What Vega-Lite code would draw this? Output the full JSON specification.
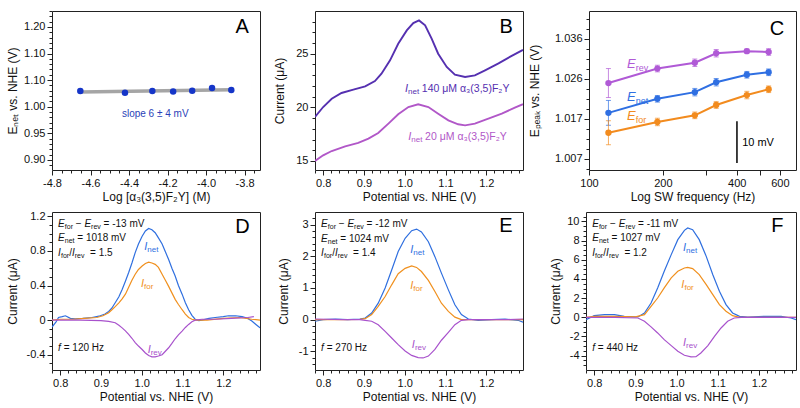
{
"$schema": "https://vega.github.io/schema/vega-lite/v6.json",
"padding": {"left": 5, "top": 4, "right": 2, "bottom": 2},
"background": "white",
"config": {
  "font": "Liberation Sans",
  "view": {"stroke": "#222", "strokeWidth": 1},
  "axis": {"grid": false, "domain": false, "ticks": true, "tickColor": "#222", "tickWidth": 1, "labelFontSize": 11, "labelColor": "#111", "labelPadding": 2, "titleFontSize": 12, "titleFontWeight": "normal", "titleColor": "#111", "titlePadding": 3, "labelOverlap": false, "labelFlush": false, "labelBound": false}
},
"datasets": {
  "A": [{"logc":-4.653,"E":1.0294},{"logc":-4.421,"E":1.0262},{"logc":-4.279,"E":1.0294},{"logc":-4.171,"E":1.0287},{"logc":-4.072,"E":1.0300},{"logc":-3.969,"E":1.0350},{"logc":-3.869,"E":1.0313}],
  "Afit": [{"logc":-4.653,"E":1.0278},{"logc":-3.869,"E":1.0318}],
  "Atext": [{"logc":-4.264,"E":0.9863,"t":"slope 6 ± 4 mV","k":"txt"},{"logc":-3.813,"E":1.15,"t":"A","k":"big"}],
  "B": [
    {"conc":"140","V":0.780,"I":19.1},{"conc":"140","V":0.800,"I":20.03},{"conc":"140","V":0.821,"I":20.8},{"conc":"140","V":0.845,"I":21.34},{"conc":"140","V":0.874,"I":21.65},{"conc":"140","V":0.903,"I":21.96},{"conc":"140","V":0.927,"I":22.45},{"conc":"140","V":0.943,"I":23.14},{"conc":"140","V":0.964,"I":24.38},{"conc":"140","V":0.984,"I":25.93},{"conc":"140","V":1.005,"I":27.17},{"conc":"140","V":1.021,"I":27.86},{"conc":"140","V":1.035,"I":28.1},{"conc":"140","V":1.050,"I":27.64},{"conc":"140","V":1.066,"I":26.4},{"conc":"140","V":1.082,"I":25.0},{"conc":"140","V":1.103,"I":23.76},{"conc":"140","V":1.123,"I":23.04},{"conc":"140","V":1.148,"I":22.83},{"conc":"140","V":1.172,"I":22.98},{"conc":"140","V":1.197,"I":23.45},{"conc":"140","V":1.230,"I":24.1},{"conc":"140","V":1.260,"I":24.75},{"conc":"140","V":1.290,"I":25.35},
    {"conc":"20","V":0.780,"I":15.0},{"conc":"20","V":0.800,"I":15.53},{"conc":"20","V":0.821,"I":15.93},{"conc":"20","V":0.854,"I":16.37},{"conc":"20","V":0.886,"I":16.68},{"conc":"20","V":0.911,"I":17.08},{"conc":"20","V":0.935,"I":17.61},{"conc":"20","V":0.960,"I":18.48},{"conc":"20","V":0.984,"I":19.35},{"conc":"20","V":1.009,"I":20.03},{"conc":"20","V":1.033,"I":20.28},{"conc":"20","V":1.058,"I":20.03},{"conc":"20","V":1.082,"I":19.41},{"conc":"20","V":1.107,"I":18.79},{"conc":"20","V":1.131,"I":18.42},{"conc":"20","V":1.148,"I":18.32},{"conc":"20","V":1.172,"I":18.48},{"conc":"20","V":1.205,"I":18.94},{"conc":"20","V":1.238,"I":19.41},{"conc":"20","V":1.270,"I":19.97},{"conc":"20","V":1.290,"I":20.3}
  ],
  "Btext": [
    {"V":1.008,"I":21.74,"t":"I","k":"cl","conc":"140"},
    {"V":1.008,"I":21.74,"t":"net","k":"cs","conc":"140"},
    {"V":1.042,"I":21.74,"t":"140 μM α₃(3,5)F₂Y","k":"txt","conc":"140"},
    {"V":1.016,"I":17.24,"t":"I","k":"cl","conc":"20"},
    {"V":1.016,"I":17.24,"t":"net","k":"cs","conc":"20"},
    {"V":1.050,"I":17.24,"t":"20 μM α₃(3,5)F₂Y","k":"txt","conc":"20"},
    {"V":1.249,"I":27.49,"t":"B","k":"big"}
  ],
  "C": [
    {"series":"rev","f":120,"E":1.0254,"err":0.0035},{"series":"rev","f":190,"E":1.0289,"err":0.0008},{"series":"rev","f":270,"E":1.0303,"err":0.0009},{"series":"rev","f":330,"E":1.0326,"err":0.0009},{"series":"rev","f":440,"E":1.0331,"err":0.0005},{"series":"rev","f":540,"E":1.0329,"err":0.0008},
    {"series":"net","f":120,"E":1.0182,"err":0.003},{"series":"net","f":190,"E":1.0216,"err":0.0008},{"series":"net","f":270,"E":1.0232,"err":0.0009},{"series":"net","f":330,"E":1.0256,"err":0.0009},{"series":"net","f":440,"E":1.0274,"err":0.0008},{"series":"net","f":540,"E":1.0280,"err":0.0008},
    {"series":"for","f":120,"E":1.0134,"err":0.0029},{"series":"for","f":190,"E":1.0160,"err":0.0009},{"series":"for","f":270,"E":1.0176,"err":0.0008},{"series":"for","f":330,"E":1.0201,"err":0.0008},{"series":"for","f":440,"E":1.0225,"err":0.0009},{"series":"for","f":540,"E":1.0239,"err":0.0008}
  ],
  "Ctext": [
    {"f":155,"E":1.0299,"series":"rev","t":"E","k":"cl"},{"f":155,"E":1.0299,"series":"rev","t":"rev","k":"cs"},
    {"f":155,"E":1.0220,"series":"net","t":"E","k":"cl"},{"f":155,"E":1.0220,"series":"net","t":"net","k":"cs"},
    {"f":155,"E":1.0174,"series":"for","t":"E","k":"cl"},{"f":155,"E":1.0174,"series":"for","t":"for","k":"cs"},
    {"f":421,"E":1.0109,"t":"10 mV","k":"txt"},
    {"f":584,"E":1.0384,"t":"C","k":"big"}
  ],
  "Cbar": [{"f":401,"E":1.0061,"E2":1.0162}],
  "Dc": [
    {"s":"net","V":0.780,"I":-0.08},{"s":"net","V":0.790,"I":-0.02},{"s":"net","V":0.796,"I":0.03},{"s":"net","V":0.805,"I":0.04},{"s":"net","V":0.813,"I":0.05},{"s":"net","V":0.825,"I":0.02},{"s":"net","V":0.837,"I":0.015},{"s":"net","V":0.855,"I":0.02},{"s":"net","V":0.878,"I":0.03},{"s":"net","V":0.895,"I":0.045},{"s":"net","V":0.910,"I":0.07},{"s":"net","V":0.919,"I":0.10},{"s":"net","V":0.927,"I":0.14},{"s":"net","V":0.935,"I":0.20},{"s":"net","V":0.944,"I":0.27},{"s":"net","V":0.952,"I":0.355},{"s":"net","V":0.960,"I":0.45},{"s":"net","V":0.968,"I":0.55},{"s":"net","V":0.976,"I":0.66},{"s":"net","V":0.984,"I":0.78},{"s":"net","V":0.992,"I":0.88},{"s":"net","V":1.001,"I":0.97},{"s":"net","V":1.009,"I":1.03},{"s":"net","V":1.017,"I":1.06},{"s":"net","V":1.025,"I":1.045},{"s":"net","V":1.033,"I":1.01},{"s":"net","V":1.041,"I":0.95},{"s":"net","V":1.050,"I":0.88},{"s":"net","V":1.058,"I":0.79},{"s":"net","V":1.066,"I":0.70},{"s":"net","V":1.074,"I":0.60},{"s":"net","V":1.082,"I":0.51},{"s":"net","V":1.090,"I":0.40},{"s":"net","V":1.099,"I":0.30},{"s":"net","V":1.107,"I":0.20},{"s":"net","V":1.115,"I":0.12},{"s":"net","V":1.123,"I":0.055},{"s":"net","V":1.131,"I":0.01},{"s":"net","V":1.140,"I":-0.005},{"s":"net","V":1.148,"I":0.0},{"s":"net","V":1.165,"I":0.02},{"s":"net","V":1.180,"I":0.03},{"s":"net","V":1.200,"I":0.04},{"s":"net","V":1.213,"I":0.05},{"s":"net","V":1.230,"I":0.05},{"s":"net","V":1.246,"I":0.04},{"s":"net","V":1.260,"I":0.02},{"s":"net","V":1.270,"I":-0.01},{"s":"net","V":1.280,"I":-0.05},{"s":"net","V":1.290,"I":-0.09},
    {"s":"for","V":0.780,"I":0.0},{"s":"for","V":0.800,"I":0.01},{"s":"for","V":0.830,"I":0.01},{"s":"for","V":0.860,"I":0.02},{"s":"for","V":0.890,"I":0.03},{"s":"for","V":0.905,"I":0.05},{"s":"for","V":0.919,"I":0.085},{"s":"for","V":0.927,"I":0.12},{"s":"for","V":0.935,"I":0.155},{"s":"for","V":0.944,"I":0.20},{"s":"for","V":0.952,"I":0.245},{"s":"for","V":0.960,"I":0.30},{"s":"for","V":0.968,"I":0.38},{"s":"for","V":0.976,"I":0.46},{"s":"for","V":0.984,"I":0.53},{"s":"for","V":0.992,"I":0.585},{"s":"for","V":1.001,"I":0.625},{"s":"for","V":1.009,"I":0.655},{"s":"for","V":1.017,"I":0.67},{"s":"for","V":1.025,"I":0.66},{"s":"for","V":1.033,"I":0.645},{"s":"for","V":1.041,"I":0.61},{"s":"for","V":1.050,"I":0.53},{"s":"for","V":1.058,"I":0.46},{"s":"for","V":1.066,"I":0.39},{"s":"for","V":1.074,"I":0.315},{"s":"for","V":1.082,"I":0.24},{"s":"for","V":1.090,"I":0.18},{"s":"for","V":1.099,"I":0.12},{"s":"for","V":1.107,"I":0.07},{"s":"for","V":1.115,"I":0.03},{"s":"for","V":1.123,"I":0.01},{"s":"for","V":1.131,"I":0.0},{"s":"for","V":1.160,"I":0.0},{"s":"for","V":1.200,"I":0.02},{"s":"for","V":1.240,"I":0.03},{"s":"for","V":1.270,"I":0.01},{"s":"for","V":1.290,"I":0.0},
    {"s":"rev","V":0.780,"I":0.0},{"s":"rev","V":0.800,"I":0.0},{"s":"rev","V":0.850,"I":0.0},{"s":"rev","V":0.900,"I":-0.005},{"s":"rev","V":0.919,"I":-0.015},{"s":"rev","V":0.935,"I":-0.03},{"s":"rev","V":0.944,"I":-0.06},{"s":"rev","V":0.952,"I":-0.09},{"s":"rev","V":0.960,"I":-0.125},{"s":"rev","V":0.968,"I":-0.166},{"s":"rev","V":0.976,"I":-0.21},{"s":"rev","V":0.984,"I":-0.26},{"s":"rev","V":0.992,"I":-0.30},{"s":"rev","V":1.001,"I":-0.34},{"s":"rev","V":1.009,"I":-0.38},{"s":"rev","V":1.017,"I":-0.41},{"s":"rev","V":1.025,"I":-0.425},{"s":"rev","V":1.033,"I":-0.425},{"s":"rev","V":1.041,"I":-0.415},{"s":"rev","V":1.050,"I":-0.40},{"s":"rev","V":1.058,"I":-0.36},{"s":"rev","V":1.066,"I":-0.32},{"s":"rev","V":1.074,"I":-0.27},{"s":"rev","V":1.082,"I":-0.216},{"s":"rev","V":1.090,"I":-0.17},{"s":"rev","V":1.099,"I":-0.127},{"s":"rev","V":1.107,"I":-0.085},{"s":"rev","V":1.115,"I":-0.05},{"s":"rev","V":1.123,"I":-0.02},{"s":"rev","V":1.131,"I":0.0},{"s":"rev","V":1.148,"I":0.01},{"s":"rev","V":1.180,"I":0.01},{"s":"rev","V":1.220,"I":0.02},{"s":"rev","V":1.260,"I":0.03},{"s":"rev","V":1.275,"I":0.04}
  ],
  "Dt": [
    {"V":0.795,"I":1.115,"t":"E","k":"var"},{"V":0.8114,"I":1.115,"t":"for","k":"sub"},{"V":0.8384,"I":1.115,"t":"−","k":"txt"},{"V":0.8595,"I":1.115,"t":"E","k":"var"},{"V":0.8759,"I":1.115,"t":"rev","k":"sub"},{"V":0.9065,"I":1.115,"t":"= -13 mV","k":"txt"},
    {"V":0.795,"I":0.947,"t":"E","k":"var"},{"V":0.8114,"I":0.947,"t":"net","k":"sub"},{"V":0.8421,"I":0.947,"t":"= 1018 mV","k":"txt"},
    {"V":0.795,"I":0.779,"t":"I","k":"var"},{"V":0.8019,"I":0.779,"t":"for","k":"sub"},{"V":0.822,"I":0.779,"t":"/","k":"txt"},{"V":0.8288,"I":0.779,"t":"I","k":"var"},{"V":0.8357,"I":0.779,"t":"rev","k":"sub"},{"V":0.8732,"I":0.779,"t":"= 1.5","k":"txt"},
    {"V":0.795,"I":-0.32,"t":"f","k":"var"},{"V":0.8087,"I":-0.32,"t":"= 120 Hz","k":"txt"},
    {"V":1.0137,"I":0.84,"t":"I","k":"cl","s":"net"},{"V":1.0137,"I":0.84,"t":"net","k":"cs","s":"net"},
    {"V":1.0055,"I":0.413,"t":"I","k":"cl","s":"for"},{"V":1.0055,"I":0.413,"t":"for","k":"cs","s":"for"},
    {"V":1.022,"I":-0.34,"t":"I","k":"cl","s":"rev"},{"V":1.022,"I":-0.34,"t":"rev","k":"cs","s":"rev"},
    {"V":1.247,"I":1.08,"t":"D","k":"big"}
  ],
  "Ec": [
    {"s":"net","V":0.780,"I":-0.05},{"s":"net","V":0.800,"I":0.0},{"s":"net","V":0.830,"I":0.02},{"s":"net","V":0.860,"I":0.0},{"s":"net","V":0.890,"I":0.02},{"s":"net","V":0.903,"I":0.05},{"s":"net","V":0.919,"I":0.21},{"s":"net","V":0.935,"I":0.52},{"s":"net","V":0.952,"I":1.0},{"s":"net","V":0.968,"I":1.57},{"s":"net","V":0.984,"I":2.15},{"s":"net","V":1.001,"I":2.57},{"s":"net","V":1.017,"I":2.81},{"s":"net","V":1.029,"I":2.86},{"s":"net","V":1.041,"I":2.77},{"s":"net","V":1.058,"I":2.46},{"s":"net","V":1.074,"I":1.99},{"s":"net","V":1.090,"I":1.47},{"s":"net","V":1.107,"I":0.94},{"s":"net","V":1.123,"I":0.47},{"s":"net","V":1.139,"I":0.16},{"s":"net","V":1.156,"I":0.02},{"s":"net","V":1.180,"I":-0.02},{"s":"net","V":1.213,"I":0.0},{"s":"net","V":1.246,"I":0.02},{"s":"net","V":1.278,"I":-0.02},{"s":"net","V":1.290,"I":-0.08},
    {"s":"for","V":0.780,"I":0.0},{"s":"for","V":0.850,"I":0.0},{"s":"for","V":0.890,"I":0.01},{"s":"for","V":0.903,"I":0.03},{"s":"for","V":0.919,"I":0.16},{"s":"for","V":0.935,"I":0.42},{"s":"for","V":0.952,"I":0.73},{"s":"for","V":0.968,"I":1.10},{"s":"for","V":0.984,"I":1.45},{"s":"for","V":1.001,"I":1.62},{"s":"for","V":1.017,"I":1.70},{"s":"for","V":1.029,"I":1.65},{"s":"for","V":1.041,"I":1.52},{"s":"for","V":1.058,"I":1.24},{"s":"for","V":1.074,"I":0.89},{"s":"for","V":1.090,"I":0.52},{"s":"for","V":1.107,"I":0.26},{"s":"for","V":1.123,"I":0.08},{"s":"for","V":1.139,"I":0.0},{"s":"for","V":1.200,"I":0.0},{"s":"for","V":1.290,"I":0.0},
    {"s":"rev","V":0.780,"I":0.02},{"s":"rev","V":0.850,"I":0.0},{"s":"rev","V":0.890,"I":0.0},{"s":"rev","V":0.903,"I":-0.02},{"s":"rev","V":0.919,"I":-0.05},{"s":"rev","V":0.935,"I":-0.16},{"s":"rev","V":0.952,"I":-0.37},{"s":"rev","V":0.968,"I":-0.58},{"s":"rev","V":0.984,"I":-0.79},{"s":"rev","V":1.001,"I":-0.99},{"s":"rev","V":1.017,"I":-1.13},{"s":"rev","V":1.033,"I":-1.20},{"s":"rev","V":1.045,"I":-1.21},{"s":"rev","V":1.058,"I":-1.15},{"s":"rev","V":1.074,"I":-0.94},{"s":"rev","V":1.090,"I":-0.65},{"s":"rev","V":1.107,"I":-0.40},{"s":"rev","V":1.123,"I":-0.16},{"s":"rev","V":1.139,"I":-0.02},{"s":"rev","V":1.156,"I":0.0},{"s":"rev","V":1.250,"I":0.0},{"s":"rev","V":1.290,"I":0.02}
  ],
  "Et": [
    {"V":0.795,"I":3.01,"t":"E","k":"var"},{"V":0.8114,"I":3.01,"t":"for","k":"sub"},{"V":0.8384,"I":3.01,"t":"−","k":"txt"},{"V":0.8595,"I":3.01,"t":"E","k":"var"},{"V":0.8759,"I":3.01,"t":"rev","k":"sub"},{"V":0.9065,"I":3.01,"t":"= -12 mV","k":"txt"},
    {"V":0.795,"I":2.55,"t":"E","k":"var"},{"V":0.8114,"I":2.55,"t":"net","k":"sub"},{"V":0.8421,"I":2.55,"t":"= 1024 mV","k":"txt"},
    {"V":0.795,"I":2.10,"t":"I","k":"var"},{"V":0.8019,"I":2.10,"t":"for","k":"sub"},{"V":0.822,"I":2.10,"t":"/","k":"txt"},{"V":0.8288,"I":2.10,"t":"I","k":"var"},{"V":0.8357,"I":2.10,"t":"rev","k":"sub"},{"V":0.8732,"I":2.10,"t":"= 1.4","k":"txt"},
    {"V":0.795,"I":-0.89,"t":"f","k":"var"},{"V":0.8087,"I":-0.89,"t":"= 270 Hz","k":"txt"},
    {"V":1.021,"I":2.2,"t":"I","k":"cl","s":"net"},{"V":1.021,"I":2.2,"t":"net","k":"cs","s":"net"},
    {"V":1.021,"I":1.05,"t":"I","k":"cl","s":"for"},{"V":1.021,"I":1.05,"t":"for","k":"cs","s":"for"},
    {"V":1.025,"I":-0.785,"t":"I","k":"cl","s":"rev"},{"V":1.025,"I":-0.785,"t":"rev","k":"cs","s":"rev"},
    {"V":1.248,"I":2.95,"t":"E","k":"big"}
  ],
  "Fc": [
    {"s":"net","V":0.780,"I":-0.24},{"s":"net","V":0.800,"I":0.17},{"s":"net","V":0.825,"I":0.28},{"s":"net","V":0.849,"I":0.28},{"s":"net","V":0.873,"I":0.10},{"s":"net","V":0.906,"I":0.03},{"s":"net","V":0.922,"I":0.45},{"s":"net","V":0.938,"I":1.49},{"s":"net","V":0.954,"I":3.06},{"s":"net","V":0.970,"I":4.79},{"s":"net","V":0.987,"I":6.53},{"s":"net","V":1.003,"I":8.09},{"s":"net","V":1.019,"I":9.06},{"s":"net","V":1.027,"I":9.3},{"s":"net","V":1.039,"I":9.13},{"s":"net","V":1.055,"I":8.09},{"s":"net","V":1.072,"I":6.35},{"s":"net","V":1.088,"I":4.44},{"s":"net","V":1.104,"I":2.71},{"s":"net","V":1.120,"I":1.32},{"s":"net","V":1.136,"I":0.45},{"s":"net","V":1.153,"I":0.10},{"s":"net","V":1.173,"I":0.03},{"s":"net","V":1.213,"I":0.10},{"s":"net","V":1.254,"I":0.10},{"s":"net","V":1.278,"I":-0.07},{"s":"net","V":1.290,"I":-0.24},
    {"s":"for","V":0.780,"I":0.0},{"s":"for","V":0.800,"I":0.1},{"s":"for","V":0.850,"I":0.1},{"s":"for","V":0.900,"I":0.05},{"s":"for","V":0.922,"I":0.28},{"s":"for","V":0.938,"I":1.15},{"s":"for","V":0.954,"I":2.01},{"s":"for","V":0.970,"I":3.06},{"s":"for","V":0.987,"I":4.10},{"s":"for","V":1.003,"I":4.79},{"s":"for","V":1.019,"I":5.14},{"s":"for","V":1.027,"I":5.20},{"s":"for","V":1.039,"I":5.07},{"s":"for","V":1.055,"I":4.44},{"s":"for","V":1.072,"I":3.40},{"s":"for","V":1.088,"I":2.36},{"s":"for","V":1.104,"I":1.32},{"s":"for","V":1.120,"I":0.63},{"s":"for","V":1.136,"I":0.17},{"s":"for","V":1.153,"I":0.0},{"s":"for","V":1.290,"I":0.0},
    {"s":"rev","V":0.780,"I":0.0},{"s":"rev","V":0.850,"I":0.0},{"s":"rev","V":0.906,"I":-0.07},{"s":"rev","V":0.922,"I":-0.42},{"s":"rev","V":0.938,"I":-1.0},{"s":"rev","V":0.954,"I":-1.63},{"s":"rev","V":0.970,"I":-2.33},{"s":"rev","V":0.987,"I":-2.95},{"s":"rev","V":1.003,"I":-3.54},{"s":"rev","V":1.019,"I":-3.96},{"s":"rev","V":1.035,"I":-4.13},{"s":"rev","V":1.047,"I":-4.10},{"s":"rev","V":1.059,"I":-3.72},{"s":"rev","V":1.076,"I":-2.95},{"s":"rev","V":1.092,"I":-1.98},{"s":"rev","V":1.108,"I":-1.11},{"s":"rev","V":1.124,"I":-0.42},{"s":"rev","V":1.140,"I":-0.07},{"s":"rev","V":1.157,"I":0.0},{"s":"rev","V":1.290,"I":0.0}
  ],
  "Ft": [
    {"V":0.795,"I":9.72,"t":"E","k":"var"},{"V":0.8114,"I":9.72,"t":"for","k":"sub"},{"V":0.8384,"I":9.72,"t":"−","k":"txt"},{"V":0.8595,"I":9.72,"t":"E","k":"var"},{"V":0.8759,"I":9.72,"t":"rev","k":"sub"},{"V":0.9065,"I":9.72,"t":"= -11 mV","k":"txt"},
    {"V":0.795,"I":8.21,"t":"E","k":"var"},{"V":0.8114,"I":8.21,"t":"net","k":"sub"},{"V":0.8421,"I":8.21,"t":"= 1027 mV","k":"txt"},
    {"V":0.795,"I":6.70,"t":"I","k":"var"},{"V":0.8019,"I":6.70,"t":"for","k":"sub"},{"V":0.822,"I":6.70,"t":"/","k":"txt"},{"V":0.8288,"I":6.70,"t":"I","k":"var"},{"V":0.8357,"I":6.70,"t":"rev","k":"sub"},{"V":0.8732,"I":6.70,"t":"= 1.2","k":"txt"},
    {"V":0.795,"I":-3.20,"t":"f","k":"var"},{"V":0.8087,"I":-3.20,"t":"= 440 Hz","k":"txt"},
    {"V":1.023,"I":7.22,"t":"I","k":"cl","s":"net"},{"V":1.023,"I":7.22,"t":"net","k":"cs","s":"net"},
    {"V":1.019,"I":3.4,"t":"I","k":"cl","s":"for"},{"V":1.019,"I":3.4,"t":"for","k":"cs","s":"for"},
    {"V":1.023,"I":-2.67,"t":"I","k":"cl","s":"rev"},{"V":1.023,"I":-2.67,"t":"rev","k":"cs","s":"rev"},
    {"V":1.245,"I":9.5,"t":"F","k":"big"}
  ]
},
"resolve": {"scale": {"x": "independent", "y": "independent", "color": "independent"}},
"spacing": 6,
"vconcat": [
 {
  "resolve": {"scale": {"x": "independent", "y": "independent", "color": "independent"}},
  "spacing": 3,
  "hconcat": [
   {
    "resolve": {"scale": {"x": "independent", "y": "independent", "color": "independent"}},
    "spacing": 12,
    "hconcat": [
     {
      "width": 208, "height": 159,
      "encoding": {
        "x": {"field": "logc", "type": "quantitative", "scale": {"domain": [-4.8, -3.72], "nice": false, "zero": false},
          "axis": {"title": "Log [α₃(3,5)F₂Y] (M)", "values": [-4.8,-4.75,-4.7,-4.65,-4.6,-4.55,-4.5,-4.45,-4.4,-4.35,-4.3,-4.25,-4.2,-4.15,-4.1,-4.05,-4.0,-3.95,-3.9,-3.85,-3.8,-3.75],
            "labelExpr": "abs(datum.value*5-round(datum.value*5))<1e-6 ? replace(format(datum.value,'.1f'),'−','-') : ''",
            "tickSize": {"condition": {"test": "abs(datum.value*5-round(datum.value*5))<1e-6", "value": 5}, "value": 3}}},
        "y": {"field": "E", "type": "quantitative", "scale": {"domain": [0.881, 1.18], "nice": false, "zero": false},
          "axis": {"title": "Eₙₑₜ vs. NHE (V)", "titlePadding": 4.5, "values": [0.89,0.9,0.91,0.92,0.93,0.94,0.95,0.96,0.97,0.98,0.99,1,1.01,1.02,1.03,1.04,1.05,1.06,1.07,1.08,1.09,1.1,1.11,1.12,1.13,1.14,1.15,1.16,1.17,1.18],
            "labelExpr": "datum.value==1.15 ? '1.20' : datum.value==1.05 ? '1.10' : (abs(datum.value*20-round(datum.value*20))<1e-6 ? format(datum.value,'.2f') : '')",
            "tickSize": {"condition": {"test": "abs(datum.value*20-round(datum.value*20))<1e-6", "value": 5}, "value": 3}}}
      },
      "layer": [
        {"data": {"name": "Afit"}, "mark": {"type": "line", "color": "#a5a5a5", "strokeWidth": 3.5}},
        {"data": {"name": "A"}, "mark": {"type": "circle", "size": 42, "color": "#1535c8", "opacity": 1}},
        {"data": {"name": "Atext"}, "transform": [{"filter": "datum.k=='txt'"}], "mark": {"type": "text", "fontSize": 10, "color": "#2a3fb8"}, "encoding": {"text": {"field": "t"}}},
        {"data": {"name": "Atext"}, "transform": [{"filter": "datum.k=='big'"}], "mark": {"type": "text", "fontSize": 20, "color": "#000"}, "encoding": {"text": {"field": "t"}}}
      ]
     },
     {
      "width": 208, "height": 159,
      "encoding": {
        "x": {"field": "V", "type": "quantitative", "scale": {"domain": [0.78, 1.29], "nice": false, "zero": false},
          "axis": {"title": "Potential vs. NHE (V)", "values": [0.78,0.8,0.82,0.84,0.86,0.88,0.9,0.92,0.94,0.96,0.98,1,1.02,1.04,1.06,1.08,1.1,1.12,1.14,1.16,1.18,1.2,1.22,1.24,1.26,1.28],
            "labelExpr": "abs(datum.value*10-round(datum.value*10))<1e-6 ? format(datum.value,'.1f') : ''",
            "tickSize": {"condition": {"test": "abs(datum.value*10-round(datum.value*10))<1e-6", "value": 5}, "value": 3}}},
        "y": {"field": "I", "type": "quantitative", "scale": {"domain": [14.16, 28.98], "nice": false, "zero": false},
          "axis": {"title": "Current (μA)", "titlePadding": 9, "values": [15,16,17,18,19,20,21,22,23,24,25,26,27,28],
            "labelExpr": "abs(datum.value/5-round(datum.value/5))<1e-6 ? format(datum.value,'d') : ''",
            "tickSize": {"condition": {"test": "abs(datum.value/5-round(datum.value/5))<1e-6", "value": 5}, "value": 3}}}
      },
      "layer": [
        {"data": {"name": "B"}, "mark": {"type": "line", "strokeWidth": 1.9, "clip": true}, "encoding": {"color": {"field": "conc", "type": "nominal", "scale": {"domain": ["140", "20"], "range": ["#5530b0", "#b157c8"]}, "legend": null}}},
        {"data": {"name": "Btext"}, "transform": [{"filter": "datum.k=='cl'"}], "mark": {"type": "text", "align": "right", "fontStyle": "italic", "fontSize": 11}, "encoding": {"text": {"field": "t"}, "color": {"field": "conc", "type": "nominal", "legend": null}}},
        {"data": {"name": "Btext"}, "transform": [{"filter": "datum.k=='cs'"}], "mark": {"type": "text", "align": "left", "fontSize": 8, "dy": 3}, "encoding": {"text": {"field": "t"}, "color": {"field": "conc", "type": "nominal", "legend": null}}},
        {"data": {"name": "Btext"}, "transform": [{"filter": "datum.k=='txt'"}], "mark": {"type": "text", "align": "left", "fontSize": 10.5}, "encoding": {"text": {"field": "t"}, "color": {"field": "conc", "type": "nominal", "legend": null}}},
        {"data": {"name": "Btext"}, "transform": [{"filter": "datum.k=='big'"}], "mark": {"type": "text", "fontSize": 20, "color": "#000"}, "encoding": {"text": {"field": "t"}}}
      ]
     }
    ]
   },
   {
    "width": 207, "height": 159,
    "encoding": {
      "x": {"field": "f", "type": "quantitative", "scale": {"type": "log", "domain": [100, 698], "nice": false},
        "axis": {"title": "Log SW frequency (Hz)", "values": [100,200,300,400,500,600], "tickSize": 5,
          "labelExpr": "(datum.value==100 || datum.value==200 || datum.value==400 || datum.value==600) ? format(datum.value,'d') : ''"}},
      "y": {"field": "E", "type": "quantitative", "scale": {"domain": [1.0044, 1.0428], "nice": false, "zero": false},
        "axis": {"title": "Eₚₑₐₖ vs. NHE (V)", "titlePadding": 13, "values": [1.0047,1.0071,1.0095,1.0119,1.0144,1.0168,1.0192,1.0216,1.024,1.0264,1.0288,1.0313,1.0337,1.0361,1.0385,1.0409],
          "labelExpr": "(datum.value==1.0071 || datum.value==1.0168 || datum.value==1.0264 || datum.value==1.0361) ? format(datum.value,'.3f') : ''",
          "tickSize": {"condition": {"test": "datum.value==1.0071 || datum.value==1.0168 || datum.value==1.0264 || datum.value==1.0361", "value": 5}, "value": 3}}}
    },
    "layer": [
      {"data": {"name": "C"}, "mark": {"type": "errorbar", "ticks": {"size": 5}, "thickness": 1, "opacity": 0.7}, "encoding": {"yError": {"field": "err"}, "color": {"field": "series", "type": "nominal", "scale": {"domain": ["rev", "net", "for"], "range": ["#b05ad6", "#2f6fe2", "#f28b1e"]}, "legend": null}}},
      {"data": {"name": "C"}, "mark": {"type": "line", "strokeWidth": 2}, "encoding": {"color": {"field": "series", "type": "nominal", "legend": null}}},
      {"data": {"name": "C"}, "mark": {"type": "circle", "size": 40, "opacity": 1}, "encoding": {"color": {"field": "series", "type": "nominal", "legend": null}}},
      {"data": {"name": "Ctext"}, "transform": [{"filter": "datum.k=='cl'"}], "mark": {"type": "text", "align": "right", "fontStyle": "italic", "fontSize": 13}, "encoding": {"text": {"field": "t"}, "color": {"field": "series", "type": "nominal", "legend": null}}},
      {"data": {"name": "Ctext"}, "transform": [{"filter": "datum.k=='cs'"}], "mark": {"type": "text", "align": "left", "fontSize": 9, "dy": 4}, "encoding": {"text": {"field": "t"}, "color": {"field": "series", "type": "nominal", "legend": null}}},
      {"data": {"name": "Cbar"}, "mark": {"type": "rule", "color": "#000", "strokeWidth": 1.5}, "encoding": {"y2": {"field": "E2"}}},
      {"data": {"name": "Ctext"}, "transform": [{"filter": "datum.k=='txt'"}], "mark": {"type": "text", "align": "left", "fontSize": 11, "color": "#000"}, "encoding": {"text": {"field": "t"}}},
      {"data": {"name": "Ctext"}, "transform": [{"filter": "datum.k=='big'"}], "mark": {"type": "text", "fontSize": 20, "color": "#000"}, "encoding": {"text": {"field": "t"}}}
    ]
   }
  ]
 },
 {
  "resolve": {"scale": {"x": "independent", "y": "independent", "color": "independent"}},
  "spacing": 25,
  "hconcat": [
   {
    "resolve": {"scale": {"x": "independent", "y": "independent", "color": "independent"}},
    "spacing": 15,
    "hconcat": [
     {
      "width": 208, "height": 158,
      "encoding": {
        "x": {"field": "V", "type": "quantitative", "scale": {"domain": [0.78, 1.29], "nice": false, "zero": false},
          "axis": {"title": "Potential vs. NHE (V)", "values": [0.78,0.8,0.82,0.84,0.86,0.88,0.9,0.92,0.94,0.96,0.98,1,1.02,1.04,1.06,1.08,1.1,1.12,1.14,1.16,1.18,1.2,1.22,1.24,1.26,1.28],
            "labelExpr": "abs(datum.value*10-round(datum.value*10))<1e-6 ? format(datum.value,'.1f') : ''",
            "tickSize": {"condition": {"test": "abs(datum.value*10-round(datum.value*10))<1e-6", "value": 5}, "value": 3}}},
        "y": {"field": "I", "type": "quantitative", "scale": {"domain": [-0.577, 1.25], "nice": false, "zero": false},
          "axis": {"title": "Current (μA)", "titlePadding": 7, "values": [-0.5,-0.4,-0.3,-0.2,-0.1,0,0.1,0.2,0.3,0.4,0.5,0.6,0.7,0.8,0.9,1.0,1.1,1.2],
            "labelExpr": "abs(datum.value*2.5-round(datum.value*2.5))<1e-6 ? (abs(datum.value)<1e-9 ? '0' : replace(format(datum.value,'.1f'),'−','-')) : ''",
            "tickSize": {"condition": {"test": "abs(datum.value*2.5-round(datum.value*2.5))<1e-6", "value": 5}, "value": 3}}}
      },
      "layer": [
        {"data": {"name": "Dc"}, "mark": {"type": "line", "strokeWidth": 1.2, "clip": true}, "encoding": {"color": {"field": "s", "type": "nominal", "scale": {"domain": ["net", "for", "rev"], "range": ["#2f6fdf", "#f0901e", "#a852cc"]}, "legend": null}}},
        {"data": {"name": "Dt"}, "transform": [{"filter": "datum.k=='cl'"}], "mark": {"type": "text", "align": "right", "fontStyle": "italic", "fontSize": 11}, "encoding": {"text": {"field": "t"}, "color": {"field": "s", "type": "nominal", "legend": null}}},
        {"data": {"name": "Dt"}, "transform": [{"filter": "datum.k=='cs'"}], "mark": {"type": "text", "align": "left", "fontSize": 8, "dy": 3}, "encoding": {"text": {"field": "t"}, "color": {"field": "s", "type": "nominal", "legend": null}}},
        {"data": {"name": "Dt"}, "transform": [{"filter": "datum.k=='var'"}], "mark": {"type": "text", "align": "left", "fontStyle": "italic", "fontSize": 10, "color": "#111"}, "encoding": {"text": {"field": "t"}}},
        {"data": {"name": "Dt"}, "transform": [{"filter": "datum.k=='sub'"}], "mark": {"type": "text", "align": "left", "fontSize": 7, "dy": 3, "color": "#111"}, "encoding": {"text": {"field": "t"}}},
        {"data": {"name": "Dt"}, "transform": [{"filter": "datum.k=='txt'"}], "mark": {"type": "text", "align": "left", "fontSize": 10, "color": "#111"}, "encoding": {"text": {"field": "t"}}},
        {"data": {"name": "Dt"}, "transform": [{"filter": "datum.k=='big'"}], "mark": {"type": "text", "fontSize": 20, "color": "#000"}, "encoding": {"text": {"field": "t"}}}
      ]
     },
     {
      "width": 208, "height": 158,
      "encoding": {
        "x": {"field": "V", "type": "quantitative", "scale": {"domain": [0.78, 1.29], "nice": false, "zero": false},
          "axis": {"title": "Potential vs. NHE (V)", "values": [0.78,0.8,0.82,0.84,0.86,0.88,0.9,0.92,0.94,0.96,0.98,1,1.02,1.04,1.06,1.08,1.1,1.12,1.14,1.16,1.18,1.2,1.22,1.24,1.26,1.28],
            "labelExpr": "abs(datum.value*10-round(datum.value*10))<1e-6 ? format(datum.value,'.1f') : ''",
            "tickSize": {"condition": {"test": "abs(datum.value*10-round(datum.value*10))<1e-6", "value": 5}, "value": 3}}},
        "y": {"field": "I", "type": "quantitative", "scale": {"domain": [-1.59, 3.4], "nice": false, "zero": false},
          "axis": {"title": "Current (μA)", "titlePadding": 8, "values": [-1.4,-1.2,-1,-0.8,-0.6,-0.4,-0.2,0,0.2,0.4,0.6,0.8,1,1.2,1.4,1.6,1.8,2,2.2,2.4,2.6,2.8,3,3.2],
            "labelExpr": "abs(datum.value-round(datum.value))<1e-6 ? replace(format(datum.value,'d'),'−','-') : ''",
            "tickSize": {"condition": {"test": "abs(datum.value-round(datum.value))<1e-6", "value": 5}, "value": 3}}}
      },
      "layer": [
        {"data": {"name": "Ec"}, "mark": {"type": "line", "strokeWidth": 1.2, "clip": true}, "encoding": {"color": {"field": "s", "type": "nominal", "scale": {"domain": ["net", "for", "rev"], "range": ["#2f6fdf", "#f0901e", "#a852cc"]}, "legend": null}}},
        {"data": {"name": "Et"}, "transform": [{"filter": "datum.k=='cl'"}], "mark": {"type": "text", "align": "right", "fontStyle": "italic", "fontSize": 11}, "encoding": {"text": {"field": "t"}, "color": {"field": "s", "type": "nominal", "legend": null}}},
        {"data": {"name": "Et"}, "transform": [{"filter": "datum.k=='cs'"}], "mark": {"type": "text", "align": "left", "fontSize": 8, "dy": 3}, "encoding": {"text": {"field": "t"}, "color": {"field": "s", "type": "nominal", "legend": null}}},
        {"data": {"name": "Et"}, "transform": [{"filter": "datum.k=='var'"}], "mark": {"type": "text", "align": "left", "fontStyle": "italic", "fontSize": 10, "color": "#111"}, "encoding": {"text": {"field": "t"}}},
        {"data": {"name": "Et"}, "transform": [{"filter": "datum.k=='sub'"}], "mark": {"type": "text", "align": "left", "fontSize": 7, "dy": 3, "color": "#111"}, "encoding": {"text": {"field": "t"}}},
        {"data": {"name": "Et"}, "transform": [{"filter": "datum.k=='txt'"}], "mark": {"type": "text", "align": "left", "fontSize": 10, "color": "#111"}, "encoding": {"text": {"field": "t"}}},
        {"data": {"name": "Et"}, "transform": [{"filter": "datum.k=='big'"}], "mark": {"type": "text", "fontSize": 20, "color": "#000"}, "encoding": {"text": {"field": "t"}}}
      ]
     }
    ]
   },
   {
    "width": 210, "height": 158,
    "encoding": {
      "x": {"field": "V", "type": "quantitative", "scale": {"domain": [0.78, 1.29], "nice": false, "zero": false},
        "axis": {"title": "Potential vs. NHE (V)", "values": [0.78,0.8,0.82,0.84,0.86,0.88,0.9,0.92,0.94,0.96,0.98,1,1.02,1.04,1.06,1.08,1.1,1.12,1.14,1.16,1.18,1.2,1.22,1.24,1.26,1.28],
          "labelExpr": "abs(datum.value*10-round(datum.value*10))<1e-6 ? format(datum.value,'.1f') : ''",
          "tickSize": {"condition": {"test": "abs(datum.value*10-round(datum.value*10))<1e-6", "value": 5}, "value": 3}}},
      "y": {"field": "I", "type": "quantitative", "scale": {"domain": [-5.49, 10.97], "nice": false, "zero": false},
        "axis": {"title": "Current (μA)", "titlePadding": 4, "values": [-5,-4.5,-4,-3.5,-3,-2.5,-2,-1.5,-1,-0.5,0,0.5,1,1.5,2,2.5,3,3.5,4,4.5,5,5.5,6,6.5,7,7.5,8,8.5,9,9.5,10,10.5],
          "labelExpr": "abs(datum.value/2-round(datum.value/2))<1e-6 ? replace(format(datum.value,'d'),'−','-') : ''",
          "tickSize": {"condition": {"test": "abs(datum.value/2-round(datum.value/2))<1e-6", "value": 5}, "value": 3}}}
    },
    "layer": [
      {"data": {"name": "Fc"}, "mark": {"type": "line", "strokeWidth": 1.2, "clip": true}, "encoding": {"color": {"field": "s", "type": "nominal", "scale": {"domain": ["net", "for", "rev"], "range": ["#2f6fdf", "#f0901e", "#a852cc"]}, "legend": null}}},
      {"data": {"name": "Ft"}, "transform": [{"filter": "datum.k=='cl'"}], "mark": {"type": "text", "align": "right", "fontStyle": "italic", "fontSize": 11}, "encoding": {"text": {"field": "t"}, "color": {"field": "s", "type": "nominal", "legend": null}}},
      {"data": {"name": "Ft"}, "transform": [{"filter": "datum.k=='cs'"}], "mark": {"type": "text", "align": "left", "fontSize": 8, "dy": 3}, "encoding": {"text": {"field": "t"}, "color": {"field": "s", "type": "nominal", "legend": null}}},
      {"data": {"name": "Ft"}, "transform": [{"filter": "datum.k=='var'"}], "mark": {"type": "text", "align": "left", "fontStyle": "italic", "fontSize": 10, "color": "#111"}, "encoding": {"text": {"field": "t"}}},
      {"data": {"name": "Ft"}, "transform": [{"filter": "datum.k=='sub'"}], "mark": {"type": "text", "align": "left", "fontSize": 7, "dy": 3, "color": "#111"}, "encoding": {"text": {"field": "t"}}},
      {"data": {"name": "Ft"}, "transform": [{"filter": "datum.k=='txt'"}], "mark": {"type": "text", "align": "left", "fontSize": 10, "color": "#111"}, "encoding": {"text": {"field": "t"}}},
      {"data": {"name": "Ft"}, "transform": [{"filter": "datum.k=='big'"}], "mark": {"type": "text", "fontSize": 20, "color": "#000"}, "encoding": {"text": {"field": "t"}}}
    ]
   }
  ]
 }
]
}
